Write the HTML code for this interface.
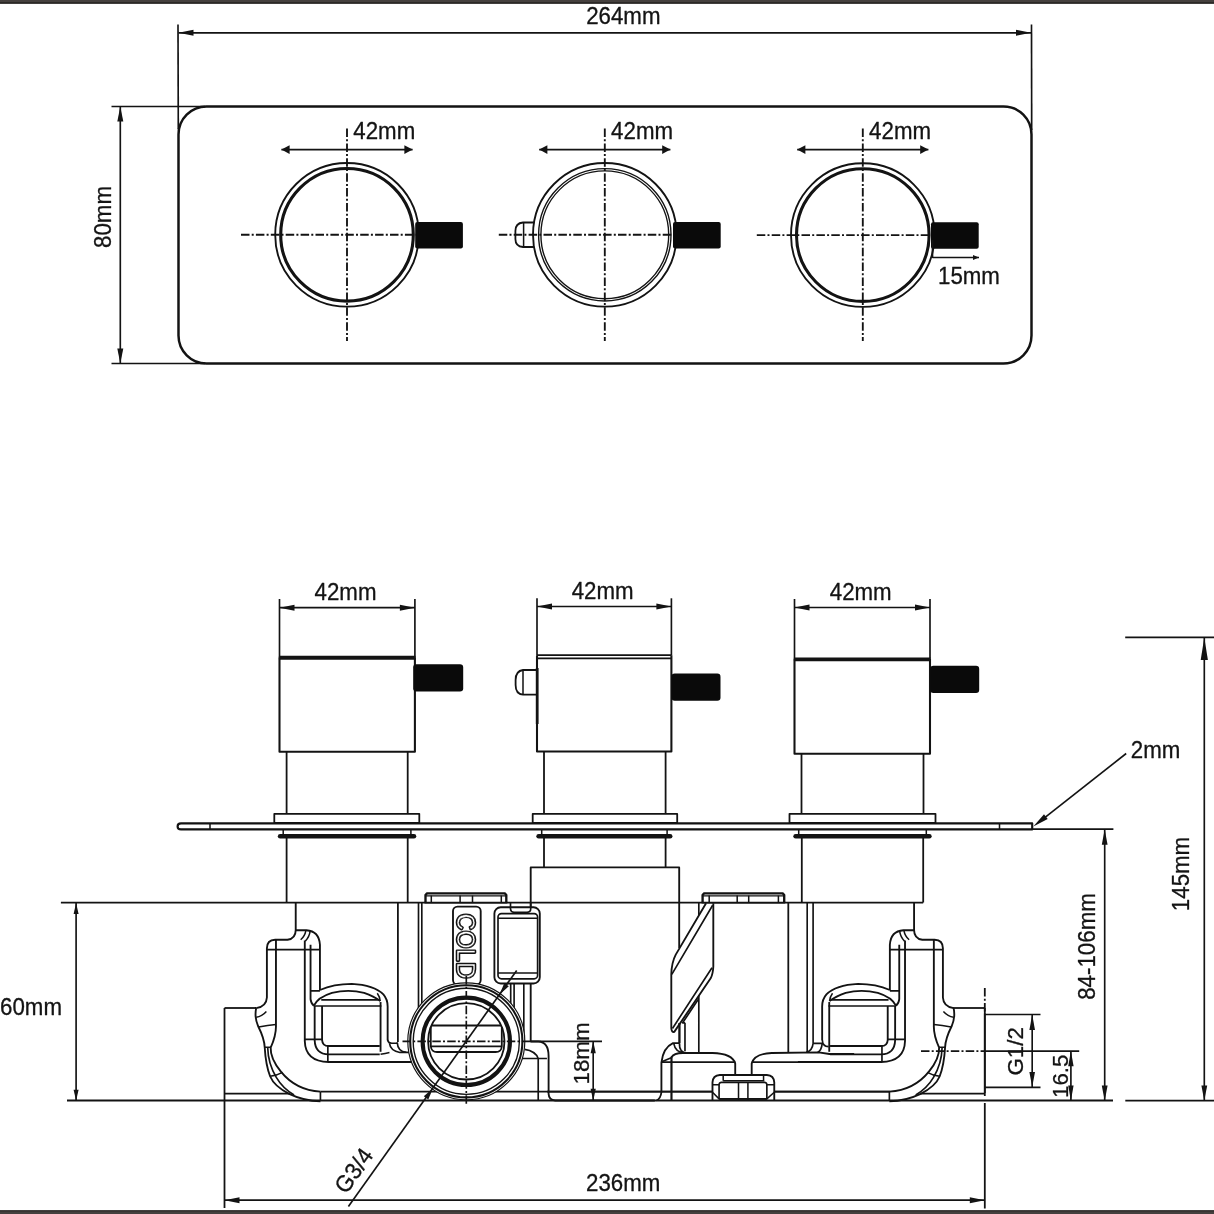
<!DOCTYPE html>
<html><head><meta charset="utf-8"><title>Dimensions</title>
<style>
html,body{margin:0;padding:0;background:#fff;}
body{width:1214px;height:1214px;overflow:hidden;position:relative;font-family:"Liberation Sans",sans-serif;}
.bar{position:absolute;left:0;width:1214px;background:#3b3838;}
svg{position:absolute;left:0;top:0;will-change:transform;}
svg text{font-family:"Liberation Sans",sans-serif;fill:#141414;stroke:#141414;stroke-width:0.3px;}
</style></head><body>
<svg width="1214" height="1214" viewBox="0 0 1214 1214" fill="none" stroke="#131313" stroke-linecap="butt" stroke-linejoin="round">
<rect x="178.5" y="106.5" width="853" height="257" rx="28" ry="28" stroke-width="2.48"/>
<line x1="178.0" y1="24.5" x2="178.3" y2="129.0" stroke-width="1.66" />
<line x1="1031.5" y1="24.5" x2="1031.7" y2="130.0" stroke-width="1.66" />
<line x1="178.5" y1="32.8" x2="1031.0" y2="32.8" stroke-width="1.66" />
<path d="M178.5 32.8 L193.5 29.8 L193.5 35.8 Z" fill="#131313" stroke="none"/>
<path d="M1031.0 32.8 L1016.0 35.8 L1016.0 29.8 Z" fill="#131313" stroke="none"/>
<text transform="translate(623.3 24.0) scale(1 1.05)" x="0" y="0" font-size="22.3" text-anchor="middle" >264mm</text>
<line x1="111.5" y1="106.5" x2="205.0" y2="106.5" stroke-width="1.66" />
<line x1="111.5" y1="363.5" x2="205.0" y2="363.5" stroke-width="1.66" />
<line x1="120.3" y1="106.5" x2="120.3" y2="363.5" stroke-width="1.66" />
<path d="M120.3 106.5 L123.3 121.5 L117.3 121.5 Z" fill="#131313" stroke="none"/>
<path d="M120.3 363.5 L117.3 348.5 L123.3 348.5 Z" fill="#131313" stroke="none"/>
<text transform="translate(111.3 217.0) rotate(-90) scale(1 1.05)" x="0" y="0" font-size="22.3" text-anchor="middle" >80mm</text>
<circle cx="347" cy="234.8" r="71.8" stroke-width="1.86"/>
<circle cx="347" cy="234.8" r="66.3" stroke-width="3.10"/>
<line x1="241.0" y1="234.8" x2="417.0" y2="234.8" stroke-width="1.86" stroke-dasharray="8.5 2.2 2 2.2"/>
<line x1="347.0" y1="128.5" x2="347.0" y2="341.0" stroke-width="1.86" stroke-dasharray="8.5 2.2 2 2.2"/>
<line x1="281.4" y1="149.6" x2="412.6" y2="149.6" stroke-width="1.86" />
<path d="M281.4 149.6 L289.6 145.2 L289.6 154.0 Z" fill="#131313" stroke="none"/>
<path d="M412.6 149.6 L404.4 154.0 L404.4 145.2 Z" fill="#131313" stroke="none"/>
<text transform="translate(353.3 138.8) scale(1 1.05)" x="0" y="0" font-size="22.3" text-anchor="start" >42mm</text>
<rect x="415.2" y="221.9" width="47.7" height="26.6" rx="2" fill="#0a0a0a" stroke="none"/>
<circle cx="604.8" cy="234.8" r="71.8" stroke-width="1.86"/>
<circle cx="604.8" cy="234.8" r="66.2" stroke-width="1.38"/>
<circle cx="604.8" cy="234.8" r="63.9" stroke-width="1.38"/>
<line x1="498.8" y1="234.8" x2="674.8" y2="234.8" stroke-width="1.86" stroke-dasharray="8.5 2.2 2 2.2"/>
<line x1="604.8" y1="128.5" x2="604.8" y2="341.0" stroke-width="1.86" stroke-dasharray="8.5 2.2 2 2.2"/>
<line x1="539.2" y1="149.6" x2="670.4" y2="149.6" stroke-width="1.86" />
<path d="M539.2 149.6 L547.4 145.2 L547.4 154.0 Z" fill="#131313" stroke="none"/>
<path d="M670.4 149.6 L662.2 154.0 L662.2 145.2 Z" fill="#131313" stroke="none"/>
<text transform="translate(611.1 138.8) scale(1 1.05)" x="0" y="0" font-size="22.3" text-anchor="start" >42mm</text>
<rect x="673.0" y="221.9" width="47.7" height="26.6" rx="2" fill="#0a0a0a" stroke="none"/>
<circle cx="862.8" cy="235.1" r="71.8" stroke-width="1.86"/>
<circle cx="862.8" cy="235.1" r="66.3" stroke-width="3.10"/>
<line x1="756.8" y1="235.1" x2="932.8" y2="235.1" stroke-width="1.86" stroke-dasharray="8.5 2.2 2 2.2"/>
<line x1="862.8" y1="128.5" x2="862.8" y2="341.0" stroke-width="1.86" stroke-dasharray="8.5 2.2 2 2.2"/>
<line x1="797.2" y1="149.6" x2="928.4" y2="149.6" stroke-width="1.86" />
<path d="M797.2 149.6 L805.4 145.2 L805.4 154.0 Z" fill="#131313" stroke="none"/>
<path d="M928.4 149.6 L920.2 154.0 L920.2 145.2 Z" fill="#131313" stroke="none"/>
<text transform="translate(869.1 138.8) scale(1 1.05)" x="0" y="0" font-size="22.3" text-anchor="start" >42mm</text>
<rect x="931.0" y="222.2" width="47.7" height="26.6" rx="2" fill="#0a0a0a" stroke="none"/>
<path d="M534.3 222.5 L523 222.5 Q515.4 223 515.4 231 L515.4 239 Q515.4 246.5 523 247 L534.3 247" stroke-width="1.79"/>
<line x1="523.6" y1="222.5" x2="523.6" y2="247.0" stroke-width="1.52" />
<line x1="932.5" y1="240.0" x2="932.5" y2="258.0" stroke-width="1.66" />
<line x1="932.5" y1="257.6" x2="979.0" y2="257.6" stroke-width="1.52" />
<path d="M979.0 257.6 L973.0 260.1 L973.0 255.1 Z" fill="#131313" stroke="none"/>
<text transform="translate(938.0 284.0) scale(1 1.05)" x="0" y="0" font-size="22.3" text-anchor="start" >15mm</text>
<line x1="279.5" y1="599.0" x2="279.5" y2="657.2" stroke-width="1.66" />
<line x1="414.9" y1="599.0" x2="414.9" y2="657.2" stroke-width="1.66" />
<line x1="279.5" y1="607.7" x2="414.9" y2="607.7" stroke-width="1.66" />
<path d="M279.5 607.7 L294.5 604.7 L294.5 610.7 Z" fill="#131313" stroke="none"/>
<path d="M414.9 607.7 L399.9 610.7 L399.9 604.7 Z" fill="#131313" stroke="none"/>
<text transform="translate(345.5 599.5) scale(1 1.05)" x="0" y="0" font-size="22.3" text-anchor="middle" >42mm</text>
<path d="M279.5 657.2 L279.5 751.7 L414.9 751.7 L414.9 657.2" stroke-width="2.07"/>
<line x1="278.9" y1="657.8" x2="415.5" y2="657.8" stroke-width="3.86" />
<line x1="286.6" y1="751.7" x2="286.6" y2="813.8" stroke-width="1.79" />
<line x1="407.7" y1="751.7" x2="407.7" y2="813.8" stroke-width="1.79" />
<rect x="274.3" y="813.8" width="145.0" height="9" stroke-width="1.79" fill="#fff"/>
<rect x="413.2" y="664.3" width="50" height="27.2" rx="3.2" fill="#0a0a0a" stroke="none"/>
<line x1="537.0" y1="598.3" x2="537.0" y2="655.2" stroke-width="1.66" />
<line x1="671.4" y1="598.3" x2="671.4" y2="655.2" stroke-width="1.66" />
<line x1="537.0" y1="606.5" x2="671.4" y2="606.5" stroke-width="1.66" />
<path d="M537.0 606.5 L552.0 603.5 L552.0 609.5 Z" fill="#131313" stroke="none"/>
<path d="M671.4 606.5 L656.4 609.5 L656.4 603.5 Z" fill="#131313" stroke="none"/>
<text transform="translate(602.6 598.8) scale(1 1.05)" x="0" y="0" font-size="22.3" text-anchor="middle" >42mm</text>
<path d="M537.0 655.2 L537.0 751.5 L671.4 751.5 L671.4 655.2" stroke-width="2.07"/>
<line x1="537.0" y1="655.2" x2="671.4" y2="655.2" stroke-width="1.79" />
<line x1="537.0" y1="658.4" x2="671.4" y2="658.4" stroke-width="1.79" />
<line x1="544.0" y1="751.5" x2="544.0" y2="813.8" stroke-width="1.79" />
<line x1="665.6" y1="751.5" x2="665.6" y2="813.8" stroke-width="1.79" />
<rect x="532.7" y="813.8" width="144.5" height="9" stroke-width="1.79" fill="#fff"/>
<rect x="671.5" y="673.5" width="49" height="27.2" rx="3.2" fill="#0a0a0a" stroke="none"/>
<line x1="794.5" y1="599.0" x2="794.5" y2="658.8" stroke-width="1.66" />
<line x1="930.0" y1="599.0" x2="930.0" y2="658.8" stroke-width="1.66" />
<line x1="794.5" y1="607.5" x2="930.0" y2="607.5" stroke-width="1.66" />
<path d="M794.5 607.5 L809.5 604.5 L809.5 610.5 Z" fill="#131313" stroke="none"/>
<path d="M930.0 607.5 L915.0 610.5 L915.0 604.5 Z" fill="#131313" stroke="none"/>
<text transform="translate(860.7 600.0) scale(1 1.05)" x="0" y="0" font-size="22.3" text-anchor="middle" >42mm</text>
<path d="M794.5 658.8 L794.5 753.8 L930.0 753.8 L930.0 658.8" stroke-width="2.07"/>
<line x1="793.9" y1="659.4" x2="930.6" y2="659.4" stroke-width="3.86" />
<line x1="801.5" y1="753.8" x2="801.5" y2="813.8" stroke-width="1.79" />
<line x1="923.5" y1="753.8" x2="923.5" y2="813.8" stroke-width="1.79" />
<rect x="789.5" y="813.8" width="146.0" height="9" stroke-width="1.79" fill="#fff"/>
<rect x="930.2" y="665.8" width="49" height="27.2" rx="3.2" fill="#0a0a0a" stroke="none"/>
<line x1="537.2" y1="668.0" x2="537.2" y2="724.0" stroke-width="2.76" />
<path d="M537 670 L523 670 Q515.6 671 515.6 680 L515.6 685 Q515.6 694 523 694.7 L537 694.7" stroke-width="1.79"/>
<line x1="523.0" y1="670.3" x2="523.0" y2="694.5" stroke-width="1.52" />
<path d="M1032.2 823.4 L181 823.4 Q177.6 823.4 177.6 826.4 Q177.6 829.4 181 829.4 L1032.2 829.4 Z" stroke-width="2.14" fill="#fff"/>
<line x1="210.0" y1="823.2" x2="210.0" y2="829.2" stroke-width="1.52" />
<line x1="999.5" y1="823.2" x2="999.5" y2="829.2" stroke-width="1.52" />
<line x1="280.1" y1="836.2" x2="414.0" y2="836.2" stroke-width="4.55" stroke-linecap="round"/>
<line x1="283.2" y1="830.0" x2="283.2" y2="835.0" stroke-width="1.52" />
<line x1="410.9" y1="830.0" x2="410.9" y2="835.0" stroke-width="1.52" />
<line x1="538.6" y1="836.2" x2="670.1999999999999" y2="836.2" stroke-width="4.55" stroke-linecap="round"/>
<line x1="541.7" y1="830.0" x2="541.7" y2="835.0" stroke-width="1.52" />
<line x1="667.1" y1="830.0" x2="667.1" y2="835.0" stroke-width="1.52" />
<line x1="795.6" y1="836.2" x2="929.4" y2="836.2" stroke-width="4.55" stroke-linecap="round"/>
<line x1="798.7" y1="830.0" x2="798.7" y2="835.0" stroke-width="1.52" />
<line x1="926.3" y1="830.0" x2="926.3" y2="835.0" stroke-width="1.52" />
<line x1="286.6" y1="838.0" x2="286.6" y2="902.5" stroke-width="1.79" />
<line x1="407.7" y1="838.0" x2="407.7" y2="902.5" stroke-width="1.79" />
<line x1="544.0" y1="838.0" x2="544.0" y2="867.4" stroke-width="1.79" />
<line x1="665.6" y1="838.0" x2="665.6" y2="867.4" stroke-width="1.79" />
<line x1="801.8" y1="838.0" x2="801.8" y2="902.5" stroke-width="1.79" />
<line x1="923.2" y1="838.0" x2="923.2" y2="902.5" stroke-width="1.79" />
<line x1="60.9" y1="902.7" x2="923.2" y2="902.7" stroke-width="1.79" />
<line x1="224.5" y1="1008.0" x2="224.5" y2="1208.0" stroke-width="1.79" />
<line x1="224.5" y1="1008.0" x2="256.0" y2="1008.0" stroke-width="1.79" />
<line x1="984.8" y1="1008.0" x2="953.0" y2="1008.0" stroke-width="1.79" />
<line x1="984.8" y1="1008.0" x2="984.8" y2="1093.0" stroke-width="1.79" />
<line x1="224.5" y1="1093.6" x2="290.0" y2="1093.6" stroke-width="1.79" />
<line x1="984.8" y1="1093.6" x2="920.0" y2="1093.6" stroke-width="1.79" />
<g transform="translate(215 920) scale(0.16474)">
<path d="M490 -105 L490 60 Q490 112 440 120 L365 120 Q315 122 315 172 L315 470 Q312 525 250 535" stroke-width="1.86" vector-effect="non-scaling-stroke" />
<path d="M250 535 Q238 590 262 645 Q300 720 302 775 Q308 880 335 950 Q360 1010 450 1055 Q540 1098 640 1100" stroke-width="1.86" vector-effect="non-scaling-stroke" />
<path d="M490 62 L555 62 Q632 68 637 150 L637 425" stroke-width="1.86" vector-effect="non-scaling-stroke" />
<path d="M520 120 Q545 100 552 63 M548 128 Q572 105 578 66" stroke-width="1.52" vector-effect="non-scaling-stroke" />
<path d="M315 180 L637 180" stroke-width="1.66" vector-effect="non-scaling-stroke" />
<path d="M370 120 L370 640 Q372 700 338 775" stroke-width="1.86" vector-effect="non-scaling-stroke" />
<path d="M545 125 L545 735 Q548 860 690 862 L1195 862" stroke-width="1.86" vector-effect="non-scaling-stroke" />
<path d="M580 150 L580 480 Q582 505 600 520" stroke-width="1.86" vector-effect="non-scaling-stroke" />
<path d="M320 775 Q322 870 372 955 Q410 1020 480 1062" stroke-width="1.66" vector-effect="non-scaling-stroke" />
<path d="M338 775 Q335 840 400 920 Q490 1032 640 1042" stroke-width="1.86" vector-effect="non-scaling-stroke" />
<path d="M250 590 Q285 585 312 555 M265 650 Q320 640 370 635 M300 772 L340 772 M335 948 Q375 945 410 925" stroke-width="1.52" vector-effect="non-scaling-stroke" />
<path d="M640 1042 L640 1098" stroke-width="1.66" vector-effect="non-scaling-stroke" />
<path d="M580 430 L637 430 M637 425 Q720 388 830 388 Q965 395 1022 452 Q1048 482 1048 525 L1048 730" stroke-width="1.86" vector-effect="non-scaling-stroke" />
<path d="M600 520 Q625 468 710 442 Q810 418 905 442 Q965 462 1003 492" stroke-width="1.86" vector-effect="non-scaling-stroke" />
<path d="M985 445 Q1000 465 1003 492" stroke-width="1.52" vector-effect="non-scaling-stroke" />
<path d="M645 485 L995 485 M600 522 L1010 522" stroke-width="1.66" vector-effect="non-scaling-stroke" />
<path d="M605 522 L605 730 Q608 815 690 816 L1000 816" stroke-width="1.86" vector-effect="non-scaling-stroke" />
<path d="M650 522 L650 728 Q652 765 690 765 L1000 765" stroke-width="1.86" vector-effect="non-scaling-stroke" />
<path d="M545 725 L650 725 M685 765 L685 862" stroke-width="1.66" vector-effect="non-scaling-stroke" />
<path d="M1005 498 L1005 800" stroke-width="1.86" vector-effect="non-scaling-stroke" />
<path d="M1048 727 Q1051 746 1073 748 L1106 748" stroke-width="1.66" vector-effect="non-scaling-stroke" />
<path d="M1059 748 Q1064 793 1122 804 L1183 804" stroke-width="1.66" vector-effect="non-scaling-stroke" />
<path d="M1106 742 Q1109 799 1161 803" stroke-width="1.66" vector-effect="non-scaling-stroke" />
<path d="M1005 815 Q1034 810 1059 804" stroke-width="1.66" vector-effect="non-scaling-stroke" />
</g>
<g transform="translate(1209.8 0) scale(-1 1)">
<g transform="translate(215 920) scale(0.16474)">
<path d="M490 -105 L490 60 Q490 112 440 120 L365 120 Q315 122 315 172 L315 470 Q312 525 250 535" stroke-width="1.86" vector-effect="non-scaling-stroke" />
<path d="M250 535 Q238 590 262 645 Q300 720 302 775 Q308 880 335 950 Q360 1010 450 1055 Q540 1098 640 1100" stroke-width="1.86" vector-effect="non-scaling-stroke" />
<path d="M490 62 L555 62 Q632 68 637 150 L637 425" stroke-width="1.86" vector-effect="non-scaling-stroke" />
<path d="M520 120 Q545 100 552 63 M548 128 Q572 105 578 66" stroke-width="1.52" vector-effect="non-scaling-stroke" />
<path d="M315 180 L637 180" stroke-width="1.66" vector-effect="non-scaling-stroke" />
<path d="M370 120 L370 640 Q372 700 338 775" stroke-width="1.86" vector-effect="non-scaling-stroke" />
<path d="M545 125 L545 735 Q548 860 690 862 L1195 862" stroke-width="1.86" vector-effect="non-scaling-stroke" />
<path d="M580 150 L580 480 Q582 505 600 520" stroke-width="1.86" vector-effect="non-scaling-stroke" />
<path d="M320 775 Q322 870 372 955 Q410 1020 480 1062" stroke-width="1.66" vector-effect="non-scaling-stroke" />
<path d="M338 775 Q335 840 400 920 Q490 1032 640 1042" stroke-width="1.86" vector-effect="non-scaling-stroke" />
<path d="M250 590 Q285 585 312 555 M265 650 Q320 640 370 635 M300 772 L340 772 M335 948 Q375 945 410 925" stroke-width="1.52" vector-effect="non-scaling-stroke" />
<path d="M640 1042 L640 1098" stroke-width="1.66" vector-effect="non-scaling-stroke" />
<path d="M580 430 L637 430 M637 425 Q720 388 830 388 Q965 395 1022 452 Q1048 482 1048 525 L1048 730" stroke-width="1.86" vector-effect="non-scaling-stroke" />
<path d="M600 520 Q625 468 710 442 Q810 418 905 442 Q965 462 1003 492" stroke-width="1.86" vector-effect="non-scaling-stroke" />
<path d="M985 445 Q1000 465 1003 492" stroke-width="1.52" vector-effect="non-scaling-stroke" />
<path d="M645 485 L995 485 M600 522 L1010 522" stroke-width="1.66" vector-effect="non-scaling-stroke" />
<path d="M605 522 L605 730 Q608 815 690 816 L1000 816" stroke-width="1.86" vector-effect="non-scaling-stroke" />
<path d="M650 522 L650 728 Q652 765 690 765 L1000 765" stroke-width="1.86" vector-effect="non-scaling-stroke" />
<path d="M545 725 L650 725 M685 765 L685 862" stroke-width="1.66" vector-effect="non-scaling-stroke" />
<path d="M1005 498 L1005 800" stroke-width="1.86" vector-effect="non-scaling-stroke" />
</g>
</g>
<line x1="320.5" y1="1091.7" x2="889.3" y2="1091.7" stroke-width="1.79" />
<line x1="397.9" y1="902.7" x2="397.9" y2="1042.0" stroke-width="1.79" />
<line x1="418.5" y1="902.7" x2="418.5" y2="1010.0" stroke-width="1.66" />
<line x1="421.8" y1="902.7" x2="421.8" y2="1010.0" stroke-width="1.66" />
<line x1="788.3" y1="902.7" x2="788.3" y2="1053.0" stroke-width="1.79" />
<line x1="807.2" y1="902.7" x2="807.2" y2="1052.0" stroke-width="1.66" />
<line x1="813.1" y1="902.7" x2="813.1" y2="1043.4" stroke-width="1.66" />
<path d="M813.1 1043.3 L822.3 1043.3 M806.2 1052.2 Q812.3 1051 813.1 1043.4 M817.6 1052.4 Q821.6 1050.4 822.2 1043.4 M822.3 1040 Q822.6 1046.6 828.6 1046.6" stroke-width="1.66"/>
<path d="M425.5 902.7 L425.5 895 L427.0 893.4 L504.8 893.4 L506.3 895 L506.3 902.7" stroke-width="2.35" fill="#fff"/>
<line x1="425.5" y1="895.9" x2="506.3" y2="895.9" stroke-width="1.38" />
<line x1="431.3" y1="895.6" x2="431.3" y2="902.7" stroke-width="1.52" />
<line x1="460.1" y1="895.6" x2="460.1" y2="902.7" stroke-width="1.52" />
<line x1="472.5" y1="895.6" x2="472.5" y2="902.7" stroke-width="1.52" />
<line x1="501.3" y1="895.6" x2="501.3" y2="902.7" stroke-width="1.52" />
<line x1="424.5" y1="902.7" x2="507.3" y2="902.7" stroke-width="1.79" />
<path d="M702.6 902.7 L702.6 895 L704.1 893.4 L782.7 893.4 L784.2 895 L784.2 902.7" stroke-width="2.35" fill="#fff"/>
<line x1="702.6" y1="895.9" x2="784.2" y2="895.9" stroke-width="1.38" />
<line x1="709.2" y1="895.6" x2="709.2" y2="902.7" stroke-width="1.52" />
<line x1="737.2" y1="895.6" x2="737.2" y2="902.7" stroke-width="1.52" />
<line x1="748.7" y1="895.6" x2="748.7" y2="902.7" stroke-width="1.52" />
<line x1="778.4" y1="895.6" x2="778.4" y2="902.7" stroke-width="1.52" />
<line x1="701.6" y1="902.7" x2="785.2" y2="902.7" stroke-width="1.79" />
<path d="M530.7 1041.5 L530.7 867.4 L679.2 867.4 L679.2 948" stroke-width="1.86"/>
<line x1="679.2" y1="1023.0" x2="679.2" y2="1043.0" stroke-width="1.79" />
<rect x="494.4" y="907.2" width="45.4" height="76.3" rx="6.3" stroke-width="1.86" fill="#fff"/>
<rect x="498" y="913.6" width="39.6" height="65.2" rx="3.5" stroke-width="1.66"/>
<line x1="498.0" y1="918.3" x2="537.6" y2="918.3" stroke-width="1.52" />
<line x1="498.0" y1="973.0" x2="537.6" y2="973.0" stroke-width="1.52" />
<path d="M510.5 902.7 L510.5 909 Q510.8 912.3 514 912.3 L527 912.3 Q530.7 912.3 530.7 909 L530.7 902.7" stroke-width="1.66"/>
<line x1="510.7" y1="983.0" x2="510.7" y2="1040.0" stroke-width="1.66" />
<line x1="514.1" y1="983.0" x2="514.1" y2="1040.0" stroke-width="1.66" />
<line x1="523.8" y1="983.0" x2="523.8" y2="1040.0" stroke-width="1.66" />
<rect x="453" y="906.6" width="27.7" height="78" rx="4.5" stroke-width="1.86" fill="#fff"/>
<text transform="translate(457.3 946.3) rotate(90) scale(1 1.12)" x="0" y="0" font-size="23.2" text-anchor="middle" style="fill:#131313;stroke:#131313;stroke-width:2.3" letter-spacing="0.3">COLD</text>
<text transform="translate(457.3 946.3) rotate(90) scale(1 1.12)" x="0" y="0" font-size="23.2" text-anchor="middle" style="fill:#fff;stroke:#131313;stroke-width:0.5" letter-spacing="0.3">COLD</text>
<g transform="translate(500 1000) scale(0.16474)">
<path d="M185 252 L232 252 Q295 255 295 340 L295 570 Q297 608 335 610 L940 610" stroke-width="1.86" vector-effect="non-scaling-stroke" />
<path d="M150 300 Q215 310 232 355 L232 610 M135 355 L285 355" stroke-width="1.66" vector-effect="non-scaling-stroke" />
<path d="M1042 340 L1042 610" stroke-width="1.66" vector-effect="non-scaling-stroke" />
</g>
<g transform="translate(640 1000) scale(0.16474)">
<path d="M240 262 L200 262 Q140 290 130 380 L130 560 Q125 600 100 610" stroke-width="1.86" vector-effect="non-scaling-stroke" />
<path d="M190 350 L190 610" stroke-width="1.66" vector-effect="non-scaling-stroke" />
<path d="M240 262 Q235 320 290 322 M205 265 Q215 318 268 321 M132 375 L190 350" stroke-width="1.66" vector-effect="non-scaling-stroke" />
<path d="M190 350 Q205 322 260 322 L440 322 Q560 325 578 385 L578 490" stroke-width="1.86" vector-effect="non-scaling-stroke" />
<path d="M130 377 L578 377 M678 377 L1300 377" stroke-width="1.66" vector-effect="non-scaling-stroke" />
<path d="M678 490 L678 385 Q695 325 800 322 L1085 318 L1150 328 L1300 328" stroke-width="1.86" vector-effect="non-scaling-stroke" />
<path d="M440 610 L440 500 Q442 458 485 455 L770 455 Q813 458 815 500 L815 610" stroke-width="1.86" vector-effect="non-scaling-stroke" fill="#fff"/>
<path d="M480 600 L480 512 Q482 500 495 500 L755 500 Q768 500 770 512 L770 600 Z" stroke-width="1.66" vector-effect="non-scaling-stroke" transform="translate(0 0)"/>
<path d="M598 500 L598 610 M655 500 L655 610 M505 490 L755 490 M440 515 L480 515 M770 515 L815 515 M505 460 L505 490 M750 460 L750 490 M440 560 L480 600 M815 560 L770 600" stroke-width="1.52" vector-effect="non-scaling-stroke" />
<path d="M480 600 L770 600" stroke-width="1.66" vector-effect="non-scaling-stroke" />
</g>
<g transform="translate(640 880) scale(0.16474)">
<path d="M401 141 L217 453 Q192 500 190 573 L190 900 Q192 926 208 922 L429 597 Q443 570 445 525 L445 141" stroke-width="1.86" vector-effect="non-scaling-stroke" />
<path d="M441 153 L193 573 M437 533 L197 901" stroke-width="1.66" vector-effect="non-scaling-stroke" />
<path d="M353 725 L259 867 L273 867" stroke-width="1.66" vector-effect="non-scaling-stroke" />
<path d="M273 867 L273 1040 M241 872 L241 990 M357 138 L357 212 M357 700 L357 1045" stroke-width="1.66" vector-effect="non-scaling-stroke" />
</g>
<line x1="67.0" y1="1100.5" x2="1113.0" y2="1100.5" stroke-width="1.93" />
<line x1="547.0" y1="1091.7" x2="712.5" y2="1091.7" stroke-width="1.66" />
<line x1="774.3" y1="1091.7" x2="890.0" y2="1091.7" stroke-width="1.66" />
<circle cx="466.3" cy="1041.3" r="58.5" stroke-width="1.17" fill="#fff"/>
<circle cx="466.3" cy="1041.3" r="56.1" stroke-width="2.07"/>
<circle cx="466.3" cy="1041.3" r="53.1" stroke-width="1.38"/>
<circle cx="466.3" cy="1041.3" r="43.7" stroke-width="4.07"/>
<circle cx="466.3" cy="1041.3" r="38.2" stroke-width="1.79"/>
<line x1="431.6" y1="1025.5" x2="501.0" y2="1025.5" stroke-width="1.79" />
<path d="M430.8 1027 L430.8 1046.5 Q431.5 1052 437 1052 L495.6 1052 Q501.4 1052 501.8 1046.5 L501.8 1027" stroke-width="1.79"/>
<line x1="430.8" y1="1046.4" x2="501.8" y2="1046.4" stroke-width="1.79" />
<line x1="402.5" y1="1041.3" x2="523.0" y2="1041.3" stroke-width="1.66" stroke-dasharray="8.5 2.2 2 2.2"/>
<line x1="466.3" y1="976.0" x2="466.3" y2="1104.0" stroke-width="1.66" stroke-dasharray="8.5 2.2 2 2.2"/>
<line x1="523.0" y1="1041.3" x2="602.0" y2="1041.3" stroke-width="1.66" />
<line x1="593.2" y1="1041.3" x2="593.2" y2="1100.7" stroke-width="1.66" />
<path d="M593.2 1041.3 L595.8 1053.3 L590.6 1053.3 Z" fill="#131313" stroke="none"/>
<path d="M593.2 1100.7 L590.6 1088.7 L595.8 1088.7 Z" fill="#131313" stroke="none"/>
<text transform="translate(589.0 1053.5) rotate(-90) scale(1 0.97)" x="0" y="0" font-size="22.3" text-anchor="middle" >18mm</text>
<line x1="516.7" y1="970.4" x2="348.4" y2="1206.6" stroke-width="1.66" />
<path d="M433.0 1088.2 L428.3 1099.6 L423.8 1096.3 Z" fill="#131313" stroke="none"/>
<path d="M499.6 994.4 L504.3 983.0 L508.8 986.3 Z" fill="#131313" stroke="none"/>
<text transform="translate(346.3 1194.9) rotate(-54.6) scale(1 1.05)" x="0" y="0" font-size="22.3" text-anchor="start" >G3/4</text>
<line x1="76.1" y1="903.0" x2="76.1" y2="1100.7" stroke-width="1.66" />
<path d="M76.1 903.0 L78.6 914.0 L73.6 914.0 Z" fill="#131313" stroke="none"/>
<path d="M76.1 1100.7 L73.6 1089.7 L78.6 1089.7 Z" fill="#131313" stroke="none"/>
<text transform="translate(62.0 1014.8) scale(1 1.05)" x="0" y="0" font-size="22.3" text-anchor="end" >60mm</text>
<line x1="984.8" y1="1103.0" x2="984.8" y2="1208.5" stroke-width="1.79" />
<line x1="224.5" y1="1200.2" x2="984.8" y2="1200.2" stroke-width="1.66" />
<path d="M224.5 1200.2 L239.5 1197.2 L239.5 1203.2 Z" fill="#131313" stroke="none"/>
<path d="M984.8 1200.2 L969.8 1203.2 L969.8 1197.2 Z" fill="#131313" stroke="none"/>
<text transform="translate(623.2 1190.6) scale(1 1.05)" x="0" y="0" font-size="22.3" text-anchor="middle" >236mm</text>
<line x1="984.8" y1="988.0" x2="984.8" y2="1014.5" stroke-width="1.79" stroke-dasharray="8.5 2.2 2 2.2"/>
<line x1="984.8" y1="1014.5" x2="984.8" y2="1096.0" stroke-width="1.79" />
<line x1="985.0" y1="1014.5" x2="1040.5" y2="1014.5" stroke-width="1.66" />
<line x1="985.0" y1="1087.3" x2="1040.5" y2="1087.3" stroke-width="1.66" />
<line x1="1032.2" y1="1014.5" x2="1032.2" y2="1087.3" stroke-width="1.66" />
<path d="M1032.2 1014.5 L1035.0 1029.9 L1029.4 1029.9 Z" fill="#131313" stroke="none"/>
<path d="M1032.2 1087.3 L1029.4 1071.9 L1035.0 1071.9 Z" fill="#131313" stroke="none"/>
<text transform="translate(1023.4 1051.3) rotate(-90) scale(1 0.98)" x="0" y="0" font-size="22.3" text-anchor="middle" >G1/2</text>
<line x1="921.0" y1="1051.1" x2="985.0" y2="1051.1" stroke-width="1.66" stroke-dasharray="8.5 2.2 2 2.2"/>
<line x1="985.0" y1="1051.1" x2="1079.2" y2="1051.1" stroke-width="1.66" />
<line x1="1070.9" y1="1051.1" x2="1070.9" y2="1100.7" stroke-width="1.66" />
<path d="M1070.9 1051.1 L1073.6 1066.3 L1068.2 1066.3 Z" fill="#131313" stroke="none"/>
<path d="M1070.9 1100.7 L1068.2 1085.5 L1073.6 1085.5 Z" fill="#131313" stroke="none"/>
<text transform="translate(1067.5 1076.3) rotate(-90) scale(1 0.98)" x="0" y="0" font-size="22.3" text-anchor="middle" >16.5</text>
<line x1="1125.3" y1="1100.7" x2="1214.0" y2="1100.7" stroke-width="1.66" />
<line x1="1032.0" y1="829.2" x2="1113.4" y2="829.2" stroke-width="1.66" />
<line x1="1104.7" y1="829.4" x2="1104.7" y2="1100.7" stroke-width="1.66" />
<path d="M1104.7 829.4 L1107.6 844.7 L1101.8 844.7 Z" fill="#131313" stroke="none"/>
<path d="M1104.7 1100.7 L1101.8 1085.4 L1107.6 1085.4 Z" fill="#131313" stroke="none"/>
<text transform="translate(1095.3 946.5) rotate(-90) scale(1 1.05)" x="0" y="0" font-size="22.3" text-anchor="middle" >84-106mm</text>
<line x1="1125.2" y1="637.4" x2="1214.0" y2="637.4" stroke-width="1.66" />
<line x1="1204.3" y1="637.6" x2="1204.3" y2="1100.7" stroke-width="1.66" />
<path d="M1204.3 1100.7 L1201.4 1085.4 L1207.2 1085.4 Z" fill="#131313" stroke="none"/>
<path d="M1204.3 637.6 L1207.9 660.1 L1200.7 660.1 Z" fill="#131313" stroke="none"/>
<text transform="translate(1188.7 874.0) rotate(-90) scale(1 1.05)" x="0" y="0" font-size="22.3" text-anchor="middle" >145mm</text>
<line x1="1126.2" y1="753.5" x2="1040.0" y2="821.4" stroke-width="1.66" />
<path d="M1033.3 826.6 L1044.0 814.3 L1047.7 819.1 Z" fill="#131313" stroke="none"/>
<text transform="translate(1130.8 758.0) scale(1 1.05)" x="0" y="0" font-size="22.3" text-anchor="start" >2mm</text>
</svg>
<div class="bar" style="top:0;height:4px;background:linear-gradient(to bottom,#45403e 0,#45403e 1.6px,#2c2927 2.4px,#2c2927 3.3px,#777473 4px)"></div>
<div class="bar" style="top:1210px;height:4px;background:linear-gradient(to bottom,#6e6b6a 0,#282624 0.8px,#2c2927 1.2px,#44403e 1.8px,#44403e 4px)"></div>
</body></html>
